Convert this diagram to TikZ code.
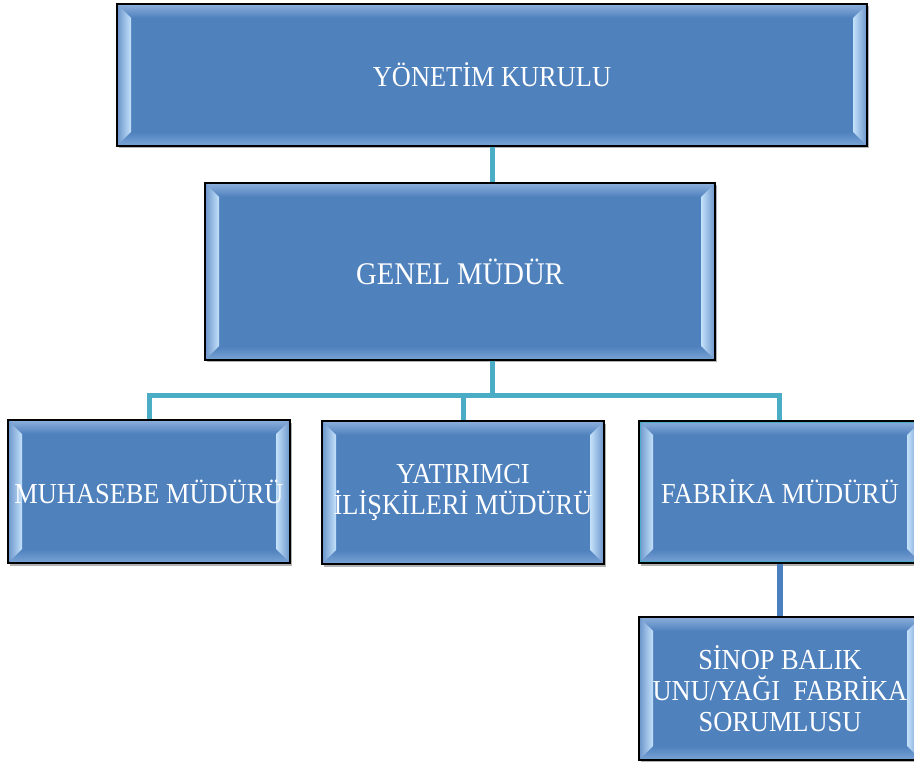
\documentclass[tikz,border=0pt]{standalone}
\usepackage{fontspec}
\setmainfont{Liberation Serif}[FakeStretch=0.91]
\usetikzlibrary{calc,shadows}
\definecolor{basec}{HTML}{4F81BD}
\definecolor{bvout}{HTML}{6A94CA}
\definecolor{bvin}{HTML}{C4E2FB}
\definecolor{bvtop}{HTML}{8DB0DC}
\definecolor{bvbot}{HTML}{7AA4D6}
\definecolor{tealc}{HTML}{4BACC6}
\definecolor{linkc}{HTML}{4A7FC0}
\tikzset{
  bevbox/.style={draw=black, line width=1.6pt, fill=basec, outer sep=0pt, inner sep=0pt,
    anchor=north west, text=white, align=center,
    font=\fontsize{29}{31}\selectfont,
    drop shadow={shadow xshift=1.5pt, shadow yshift=-2.5pt, opacity=.3, fill=black},
    path picture={
      \coordinate (nw) at (path picture bounding box.north west);
      \coordinate (se) at (path picture bounding box.south east);
      \coordinate (sw) at (nw|-se);
      \coordinate (ne) at (nw-|se);
      \shade[top color=bvtop, bottom color=basec] (nw) -- (ne) -- ($(ne)+(-14,14)$) -- ($(nw)+(14,14)$) -- cycle;
      \shade[top color=basec, bottom color=bvbot] (sw) -- (se) -- ($(se)+(-14,-14)$) -- ($(sw)+(14,-14)$) -- cycle;
      \shade[left color=bvout, right color=bvin] (nw) -- ($(nw)+(14,14)$) -- ($(sw)+(14,-14)$) -- (sw) -- cycle;
      \shade[left color=bvin, right color=bvout] (ne) -- ($(ne)+(-14,14)$) -- ($(se)+(-14,-14)$) -- (se) -- cycle;
    }},
  tealline/.style={draw=tealc, line width=5pt, line join=miter},
  blueline/.style={draw=linkc, line width=6pt}
}
\begin{document}
\begin{tikzpicture}[x=1pt,y=-1pt]
\clip (0,0) rectangle (914,762);
\fill[white] (0,0) rectangle (914,762);
\node[bevbox, minimum width=750pt, minimum height=142pt] (top) at (117,4) {YÖNETİM KURULU};
\node[bevbox, minimum width=510pt, minimum height=177pt, font=\fontsize{31.5}{34}\selectfont] (gen) at (205,183) {GENEL MÜDÜR};
\node[bevbox, minimum width=282pt, minimum height=143pt] (muh) at (8,420) {MUHASEBE MÜDÜRÜ};
\node[bevbox, minimum width=282pt, minimum height=143pt] (yat) at (322,421) {YATIRIMCI\\İLİŞKİLERİ MÜDÜRÜ};
\node[bevbox, minimum width=282pt, minimum height=142pt] (fab) at (639,421) {FABRİKA MÜDÜRÜ};
\node[bevbox, minimum width=282pt, minimum height=143pt] (sin) at (639,617) {SİNOP BALIK\\UNU/YAĞI\ \ FABRİKA\\SORUMLUSU};
\draw[tealc, line width=1.2pt] ($(fab.north west)+(1.8,1.8)$) rectangle ($(fab.south east)+(-1.8,-1.8)$);
\coordinate (bus) at (492,395);
\draw[tealline] ($(top.south)+(0,0.8)$) -- ($(top.south |- gen.north)+(0,-0.8)$);
\draw[tealline] ($(top.south |- gen.south)+(0,0.8)$) -- (bus);
\draw[tealline] (bus) -| ($(muh.north)+(0,-0.8)$);
\draw[tealline] (bus) -| ($(yat.north)+(0,-0.8)$);
\draw[tealline] (bus) -| ($(fab.north)+(-1,-0.8)$);
\draw[blueline] ($(fab.south)+(0,0.8)$) -- ($(sin.north)+(0,-0.8)$);
\end{tikzpicture}
\end{document}
